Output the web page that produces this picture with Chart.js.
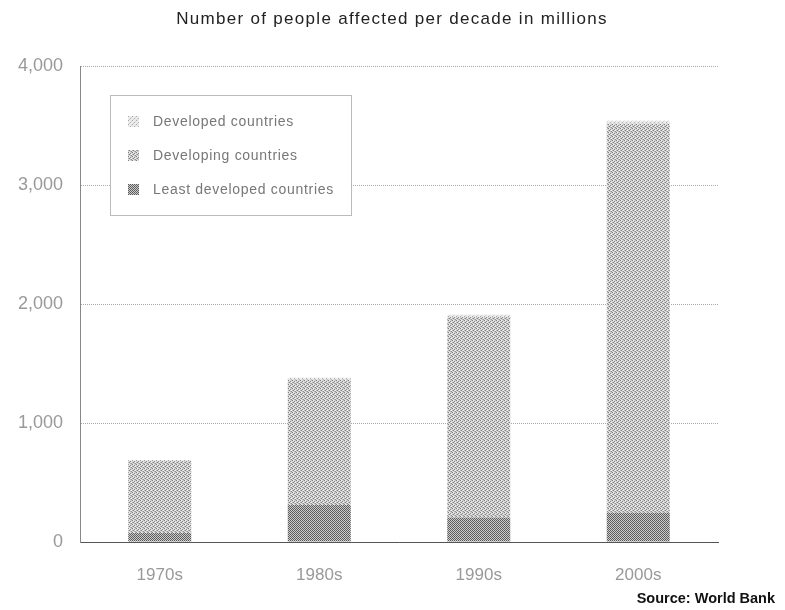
<!DOCTYPE html>
<html>
<head>
<meta charset="utf-8">
<script src="https://cdn.jsdelivr.net/npm/chart.js@4/dist/chart.umd.min.js"></script>
<style>
  html, body { margin: 0; padding: 0; background: #fff; }
  #wrap { width: 785px; height: 610px; }
</style>
</head>
<body>
<div id="wrap"><canvas id="c" width="785" height="610"></canvas></div>
<script>
// Decades on the x axis
const decades = ['1970s', '1980s', '1990s', '2000s'];
// People affected per decade, millions
const leastDeveloped = [75, 310, 205, 245];
const developing = [605, 1055, 1685, 3270];
const developed = [10, 15, 20, 25];
// Value axis ticks
const yTicks = [0, 1000, 2000, 3000, 4000];

const chartTitle = 'Number of people affected per decade in millions';
const sourceNote = 'Source: World Bank';
const legendNames = ['Developed countries', 'Developing countries', 'Least developed countries'];
const FONT = '"Liberation Sans", Arial, sans-serif';

// Small dithered tiles used as bar fills
function makePattern(size, base, dots) {
  const c = document.createElement('canvas');
  c.width = size; c.height = size;
  const g = c.getContext('2d');
  g.fillStyle = base;
  g.fillRect(0, 0, size, size);
  dots.forEach(([x, y, col]) => { g.fillStyle = col; g.fillRect(x, y, 1, 1); });
  return g.createPattern(c, 'repeat');
}
const fillDeveloped = makePattern(4, '#ececec', [[0,0,'#a8a8a8'],[2,2,'#b0b0b0'],[1,3,'#cccccc'],[3,1,'#d4d4d4']]);
const fillDeveloping = makePattern(4, '#dadada', [
  [0,0,'#7e7e7e'],[2,1,'#8a8a8a'],[1,2,'#848484'],[3,3,'#949494'],
  [2,3,'#b4b4b4'],[0,2,'#b0b0b0'],[3,0,'#c0c0c0'],[1,0,'#eeeeee'],[3,2,'#f0f0f0']
]);
const fillLeast = makePattern(2, '#cccccc', [[0,0,'#595959'],[1,1,'#606060']]);
// legend order: developed, developing, least developed
const legendFills = [fillDeveloped, fillDeveloping, fillLeast];

// Title, in-plot legend box and source note
const extras = {
  id: 'extras',
  afterDraw(chart) {
    const { ctx } = chart;
    ctx.save();
    // title
    ctx.font = '17px ' + FONT;
    ctx.letterSpacing = '1.3px';
    ctx.fillStyle = '#222';
    ctx.textAlign = 'center';
    ctx.textBaseline = 'middle';
    ctx.fillText(chartTitle, 392, 19);

    // legend frame
    ctx.setLineDash([1, 1]);
    ctx.strokeStyle = '#777';
    ctx.lineWidth = 1;
    ctx.fillStyle = '#ffffff';
    ctx.fillRect(110.5, 95.5, 241, 120);
    ctx.strokeRect(110.5, 95.5, 241, 120);
    ctx.setLineDash([]);
    ctx.font = '14px ' + FONT;
    ctx.letterSpacing = '0.7px';
    ctx.textAlign = 'left';
    legendNames.forEach((name, i) => {
      const y = 122 + i * 34;
      ctx.fillStyle = legendFills[i];
      ctx.fillRect(128, y - 6, 11, 11);
      ctx.fillStyle = '#777';
      ctx.fillText(name, 153, y);
    });

    // source
    ctx.letterSpacing = '0px';
    ctx.font = 'bold 14.5px ' + FONT;
    ctx.fillStyle = '#111';
    ctx.textAlign = 'right';
    ctx.textBaseline = 'middle';
    ctx.fillText(sourceNote, 775, 599);
    ctx.restore();
  }
};

new Chart(document.getElementById('c'), {
  type: 'bar',
  data: {
    labels: decades,
    datasets: [
      { label: legendNames[2], data: leastDeveloped, backgroundColor: fillLeast },
      { label: legendNames[1], data: developing, backgroundColor: fillDeveloping },
      { label: legendNames[0], data: developed, backgroundColor: fillDeveloped }
    ]
  },
  options: {
    responsive: false,
    animation: false,
    layout: { padding: { left: 0, right: 67, top: 66, bottom: 0 } },
    datasets: { bar: { barPercentage: 0.395, categoryPercentage: 1, borderWidth: 0 } },
    plugins: {
      legend: { display: false },
      tooltip: { enabled: false },
      title: { display: false }
    },
    scales: {
      x: {
        stacked: true,
        grid: { display: false, drawTicks: false },
        border: { display: true, color: '#555', dash: [2, 1], width: 1 },
        ticks: {
          color: '#999',
          padding: 23,
          font: { family: FONT, size: 17 }
        },
        afterFit(s) { s.height = 68; }
      },
      y: {
        stacked: true,
        min: 0,
        max: 4000,
        afterBuildTicks(s) { s.ticks = yTicks.map(v => ({ value: v })); },
        grid: { color: '#aaa', lineWidth: 1, drawTicks: false },
        border: { display: true, color: '#888', dash: [1, 1] },
        ticks: {
          color: '#999',
          padding: 17,
          font: { family: FONT, size: 18 },
          callback: v => v.toLocaleString('en-US')
        },
        afterFit(s) { s.width = 80; }
      }
    }
  },
  plugins: [extras]
});
</script>
</body>
</html>
